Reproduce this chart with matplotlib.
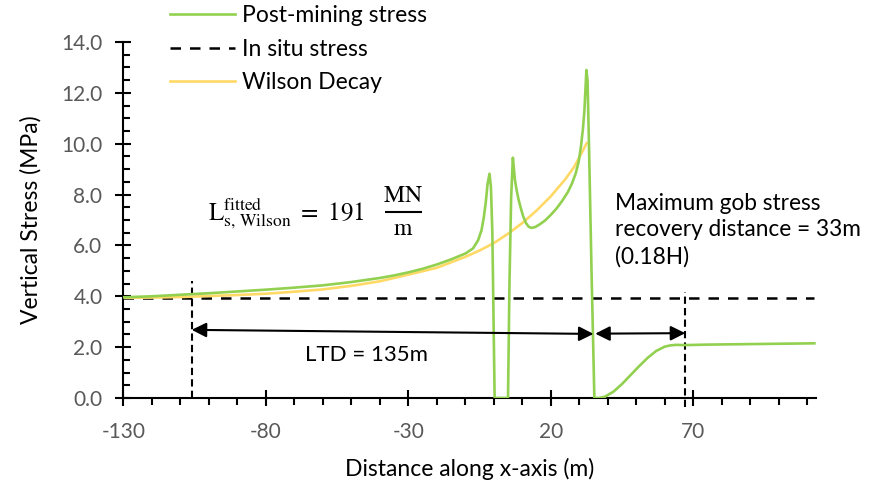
import matplotlib
matplotlib.use("Agg")
import matplotlib.pyplot as plt
from matplotlib.ticker import MultipleLocator, FixedLocator, FormatStrFormatter

plt.rcParams['font.family'] = ['Lato', 'DejaVu Sans']
plt.rcParams['mathtext.fontset'] = 'stix'
plt.rcParams['axes.unicode_minus'] = False

# ---- data ----
post_x = [-130, -120, -110, -100, -90, -80, -70, -60, -50, -40, -35, -30, -25, -20, -15,
          -10, -7.3, -5.5, -4.3, -3.5, -2.8, -2.2, -1.5, -1.0, -0.5, 0.3, 5.0, 5.5, 6.1,
          6.7, 7.0, 7.4, 7.9, 8.6, 9.4, 10.3, 11.3, 12.2, 13.1, 14.5, 16.0, 18.0, 20.0,
          22.0, 24.0, 26.0, 27.5, 28.8, 29.8, 30.6, 31.3, 31.8, 32.2, 32.5, 32.9, 33.4,
          34.3, 35.3, 37.0, 39, 42, 45, 48, 51, 54, 57, 60, 62, 64, 67, 75, 90, 112.5]
post_y = [3.96, 4.00, 4.06, 4.12, 4.19, 4.26, 4.34, 4.43, 4.56, 4.72, 4.82, 4.94, 5.08,
          5.25, 5.45, 5.68, 5.88, 6.20, 6.60, 7.10, 7.70, 8.40, 8.82, 8.30, 6.50, 0.0,
          0.0, 4.50, 7.90, 9.45, 9.10, 8.60, 8.25, 7.85, 7.50, 7.15, 6.88, 6.74, 6.69,
          6.72, 6.82, 6.98, 7.20, 7.45, 7.75, 8.10, 8.45, 8.85, 9.30, 9.90, 10.60, 11.30,
          12.20, 12.90, 12.50, 10.00, 5.00, 0.0, 0.0, 0.05, 0.25, 0.55, 0.90, 1.25, 1.58,
          1.85, 2.02, 2.07, 2.09, 2.08, 2.10, 2.12, 2.15]

wilson_x = [-130, -120, -110, -100, -90, -80, -70, -60, -50, -40, -30, -20, -10, -5,
            0, 5, 10, 15, 20, 25, 28, 30, 32.6]
wilson_y = [3.94, 3.95, 3.97, 4.01, 4.05, 4.10, 4.18, 4.27, 4.41, 4.59, 4.85, 5.12, 5.55,
            5.80, 6.09, 6.46, 6.88, 7.37, 7.93, 8.59, 9.05, 9.46, 10.02]

insitu_x = [-130, 112.5]
insitu_y = [3.92, 3.92]

ltd_x = [-106, 35.0]
ltd_y = [2.68, 2.52]
gob_x = [35.6, 67.2]
gob_y = [2.53, 2.55]

x_major = [-130, -80, -30, 20, 70]
x_minor = list(range(-130, 111, 10))

green = '#92D050'
yellow = '#FFD966'

fig = plt.figure(figsize=(8.7, 4.87), dpi=100)
ax = fig.add_axes([123.3/870, 89/487, (815.8-123.3)/870, 356/487])

l1, = ax.plot(post_x, post_y, color=green, lw=1.9, label='Post-mining stress', zorder=3,
              solid_joinstyle='round')
l2, = ax.plot(insitu_x, insitu_y, color='black', lw=1.8, dashes=(4.2, 3.6),
              label='In situ stress', zorder=2)
l3, = ax.plot(wilson_x, wilson_y, color=yellow, lw=1.9, label='Wilson Decay', zorder=2.5)
ax.plot([ltd_x[0], ltd_x[0]], [0, 4.6], color='black', lw=1.5, dashes=(3.5, 2))
ax.plot([gob_x[1], gob_x[1]], [-0.35, 4.18], color='black', lw=1.5, dashes=(3.5, 2),
        clip_on=False)

ax.annotate('', xy=(ltd_x[1], ltd_y[1]), xytext=(ltd_x[0], ltd_y[0]),
            arrowprops=dict(arrowstyle='<|-|>', color='black', lw=1.5,
                            mutation_scale=22, shrinkA=0, shrinkB=0))
ax.annotate('', xy=(gob_x[1], gob_y[1]), xytext=(gob_x[0], gob_y[0]),
            arrowprops=dict(arrowstyle='<|-|>', color='black', lw=1.5,
                            mutation_scale=22, shrinkA=0, shrinkB=0))

ax.text(-66.3, 1.69, 'LTD = 135m', fontsize=16, va='center', ha='left')
ax.text(42.7, 6.61, 'Maximum gob stress\nrecovery distance = 33m\n(0.18H)',
        fontsize=16.3, va='center', ha='left', linespacing=1.32)

# fitted load equation
ax.text(-100.3, 7.27,
        r'$\mathrm{L}_{\mathrm{s,\,Wilson}}^{\mathrm{fitted}}\ =\ 191$',
        fontsize=18, va='center', ha='left')
ax.text(-31.8, 7.98, r'$\mathrm{MN}$', fontsize=17, va='center', ha='center')
ax.text(-31.8, 6.68, r'$\mathrm{m}$', fontsize=17, va='center', ha='center')
ax.plot([-38.3, -25.3], [7.31, 7.31], color='black', lw=1.5, solid_capstyle='butt')

ax.set_xlim(-130, 113)
ax.set_ylim(0, 14)
ax.xaxis.set_major_locator(FixedLocator(x_major))
ax.xaxis.set_minor_locator(FixedLocator(x_minor))
ax.yaxis.set_major_locator(MultipleLocator(2))
ax.yaxis.set_minor_locator(MultipleLocator(0.5))
ax.yaxis.set_major_formatter(FormatStrFormatter('%.1f'))

for s in ['top', 'right']:
    ax.spines[s].set_visible(False)
for s in ['left', 'bottom']:
    ax.spines[s].set_linewidth(1.5)
    ax.spines[s].set_color('black')

ax.tick_params(axis='both', which='major', direction='inout', length=12, width=1.5,
               labelsize=15, labelcolor='#595959', color='black')
ax.tick_params(axis='x', which='major', pad=11)
ax.tick_params(axis='y', which='major', pad=9)
ax.tick_params(axis='x', which='minor', direction='out', length=5, width=1.5, color='black')
ax.tick_params(axis='y', which='minor', direction='in', length=5, width=1.5, color='black')

ax.set_xlabel('Distance along x-axis (m)', fontsize=16.5, labelpad=12)
ax.set_ylabel('Vertical Stress (MPa)', fontsize=16.5, labelpad=14)

fig.legend(handles=[l1, l2, l3], loc='upper left',
           bbox_to_anchor=(170/870, 1 - 5/487), frameon=False, fontsize=16.5,
           handlelength=2.85, handletextpad=0.28, labelspacing=0.55,
           borderpad=0, borderaxespad=0)

fig.savefig('out.png', dpi=100)
